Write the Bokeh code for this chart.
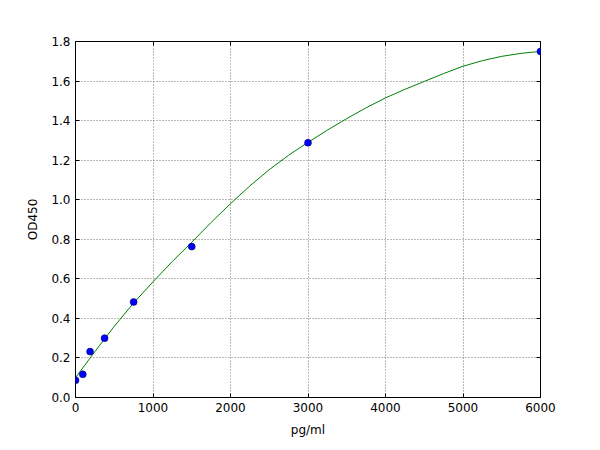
from bokeh.plotting import figure
from bokeh.models import LinearAxis, FixedTicker, NumeralTickFormatter, Range1d, CustomJSTickFormatter
from bokeh.embed import file_html
from bokeh.resources import INLINE

# standards
conc = [0, 94, 188, 375, 750, 1500, 3000, 6000]
od450 = [0.087, 0.117, 0.232, 0.300, 0.483, 0.763, 1.288, 1.750]

# fitted curve
curve_x = [0, 250, 500, 750, 1000, 1250, 1500, 1750, 2000, 2250, 2500, 2750, 3000,
           3250, 3500, 3750, 4000, 4250, 4500, 4750, 5000, 5250, 5500, 5750, 6000]
curve_y = [0.100, 0.232, 0.360, 0.478, 0.585, 0.688, 0.785, 0.885, 0.980, 1.070, 1.152, 1.225, 1.290,
           1.352, 1.410, 1.465, 1.515, 1.558, 1.598, 1.638, 1.675, 1.703, 1.725, 1.740, 1.750]

x_ticks = [0, 1000, 2000, 3000, 4000, 5000, 6000]
y_ticks = [0.0, 0.2, 0.4, 0.6, 0.8, 1.0, 1.2, 1.4, 1.6, 1.8]

FONT = "DejaVu Sans"

p = figure(
    frame_width=465, frame_height=356,
    min_border_left=75, min_border_right=44,
    min_border_top=41, min_border_bottom=37,
    x_range=Range1d(0, 6000), y_range=Range1d(0, 1.8),
    output_backend="svg", toolbar_location=None, tools="",
    background_fill_color="white", border_fill_color="white",
)
p.outline_line_color = "black"
p.outline_line_width = 1

p.line(curve_x, curve_y, line_color="#008000", line_width=1)
p.scatter(conc, od450, size=7, fill_color="#0000ff", line_color="#000040", line_width=0.5)

for ax in p.xaxis + p.yaxis:
    ax.axis_line_color = None
    ax.major_tick_in = 4
    ax.major_tick_out = 0
    ax.minor_tick_line_color = None
    ax.major_tick_line_color = "black"
    ax.major_label_text_font = FONT
    ax.major_label_text_font_size = "12px"
    ax.major_label_text_color = "black"
    ax.major_label_standoff = 5
    ax.axis_label_text_font = FONT
    ax.axis_label_text_font_size = "12px"
    ax.axis_label_text_font_style = "normal"
    ax.axis_label_text_color = "black"
    ax.axis_label_standoff = 8

p.xaxis.ticker = FixedTicker(ticks=x_ticks)
p.xaxis.formatter = NumeralTickFormatter(format="0")
p.xaxis.axis_label = "pg/ml"
p.yaxis.ticker = FixedTicker(ticks=y_ticks)
p.yaxis.formatter = NumeralTickFormatter(format="0.0")
p.yaxis.axis_label = "OD450"

# ticks on the top and right edges, no labels
blank = CustomJSTickFormatter(code="return ''")
top = LinearAxis(ticker=FixedTicker(ticks=x_ticks), formatter=blank, axis_line_color=None,
                 major_tick_in=4, major_tick_out=0, minor_tick_line_color=None,
                 major_tick_line_color="black", major_label_standoff=0)
right = LinearAxis(ticker=FixedTicker(ticks=y_ticks), formatter=blank, axis_line_color=None,
                   major_tick_in=4, major_tick_out=0, minor_tick_line_color=None,
                   major_tick_line_color="black", major_label_standoff=0)
p.add_layout(top, "above")
p.add_layout(right, "right")

p.xgrid.ticker = FixedTicker(ticks=x_ticks)
p.ygrid.ticker = FixedTicker(ticks=y_ticks)
p.grid.grid_line_color = "#555555"
p.grid.grid_line_width = 1
p.grid.grid_line_alpha = 0.8
p.grid.grid_line_dash = "1 2"

open("out.html", "w").write(file_html(p, INLINE))
